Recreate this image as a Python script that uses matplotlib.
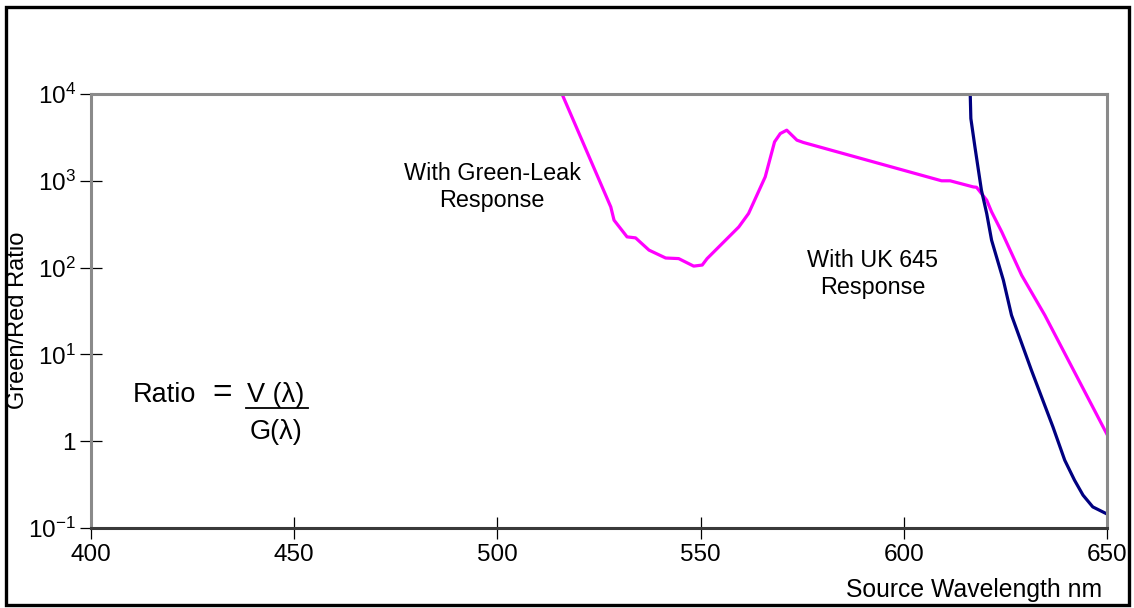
import matplotlib
matplotlib.use("Agg")
import matplotlib.pyplot as plt
from matplotlib.lines import Line2D
from matplotlib.patches import Rectangle
from matplotlib.ticker import FixedLocator, FixedFormatter, NullLocator

FONT = ['Liberation Sans', 'DejaVu Sans']
plt.rcParams['font.family'] = FONT
plt.rcParams['mathtext.fontset'] = 'custom'
plt.rcParams['mathtext.rm'] = 'Liberation Sans'
plt.rcParams['mathtext.it'] = 'Liberation Sans:italic'

# ---- data ----
green_leak_nm = [515.9, 527.9, 528.7, 531.9, 534.0, 537.3, 541.4, 544.6, 548.3, 550.4,
                 551.6, 559.4, 561.8, 565.9, 568.2, 569.6, 571.2, 573.7, 575.3,
                 609.3, 611.4, 617.1, 617.9, 620.4, 621.6, 624.1, 629.0, 634.7, 650.0]
green_leak_ratio = [10000, 500, 352, 226, 220, 159, 129, 127, 104, 107,
                    127, 294, 420, 1110, 2810, 3500, 3830, 2940, 2763,
                    1000, 1000, 850, 842, 598, 439, 258, 81.6, 28.3, 1.2]

uk645_nm = [616.3, 616.5, 617.5, 619.1, 620.4, 621.6, 624.5, 626.5, 631.4, 636.7,
            639.6, 642.0, 644.1, 646.5, 650.0]
uk645_ratio = [12000, 5220, 2460, 780, 420, 207, 71.6, 28.3, 6.58, 1.46,
               0.604, 0.356, 0.239, 0.175, 0.145]

x_ticks = [400, 450, 500, 550, 600, 650]
x_tick_labels = ['400', '450', '500', '550', '600', '650']
y_ticks = [0.1, 1, 10, 100, 1000, 10000]
y_tick_labels = [r'$\mathregular{10^{-1}}$', '1', r'$\mathregular{10^{1}}$',
                 r'$\mathregular{10^{2}}$', r'$\mathregular{10^{3}}$', r'$\mathregular{10^{4}}$']

W, H = 1134, 608
fig = plt.figure(figsize=(W / 100, H / 100), dpi=100)

def fx(px):
    return px / W

def fy(py):
    return 1 - py / H

ax = fig.add_axes([fx(91), fy(528), fx(1107) - fx(91), fy(94) - fy(528)])
ax.set_xlim(400, 650)
ax.set_yscale('log')
ax.set_ylim(0.1, 10000)

ax.plot(green_leak_nm, green_leak_ratio, color='#FF00FF', lw=2.3, solid_joinstyle='round')
ax.plot(uk645_nm, uk645_ratio, color='#000080', lw=2.3, solid_joinstyle='round')

ax.xaxis.set_major_locator(FixedLocator(x_ticks))
ax.xaxis.set_major_formatter(FixedFormatter(x_tick_labels))
ax.yaxis.set_major_locator(FixedLocator(y_ticks))
ax.yaxis.set_major_formatter(FixedFormatter(y_tick_labels))
ax.yaxis.set_minor_locator(NullLocator())
ax.tick_params(axis='both', which='major', direction='inout', length=15.5, width=0.9,
               color='black', labelsize=17.5, labelcolor='black')
ax.tick_params(axis='x', pad=4)
ax.tick_params(axis='y', pad=3)

for s in ['top', 'right', 'left']:
    ax.spines[s].set_color('#8a8a8a')
    ax.spines[s].set_linewidth(2.2)
ax.spines['bottom'].set_color('#3a3a3a')
ax.spines['bottom'].set_linewidth(2.2)

# annotations
ax.text(498.7, 844, 'With Green-Leak\nResponse', ha='center', va='center',
        fontsize=16.8, linespacing=1.25)
ax.text(592.3, 84, 'With UK 645\nResponse', ha='center', va='center',
        fontsize=16.8, linespacing=1.25)

# formula
fig.text(fx(164), fy(395), 'Ratio', ha='center', va='center', fontsize=19.5)
fig.text(fx(222), fy(394), '=', ha='center', va='center', fontsize=24)
fig.text(fx(276), fy(395), 'V (λ)', ha='center', va='center', fontsize=19.5)
fig.add_artist(Line2D([fx(246), fx(308)], [fy(408), fy(408)], color='black', lw=1.3,
                      transform=fig.transFigure))
fig.text(fx(276), fy(432), 'G(λ)', ha='center', va='center', fontsize=19.5)

# axis labels
fig.text(fx(18), fy(320), 'Green/Red Ratio', rotation=90, ha='center', va='center',
         fontsize=17)
fig.text(fx(1102), fy(590), 'Source Wavelength nm', ha='right', va='center',
         fontsize=17.8)

# outer frame
fig.add_artist(Rectangle((fx(6), fy(605)), fx(1129) - fx(6), fy(7) - fy(605),
                         fill=False, edgecolor='black', lw=2.4,
                         transform=fig.transFigure))

fig.savefig('out.png', dpi=100)
